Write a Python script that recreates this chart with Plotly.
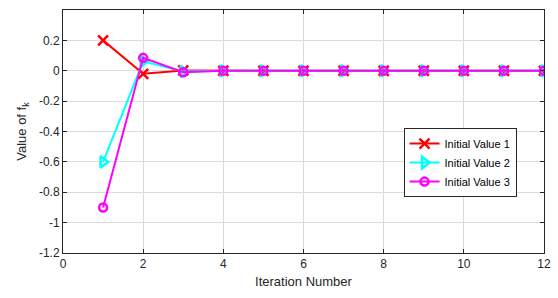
import plotly.graph_objects as go

iterations = [1, 2, 3, 4, 5, 6, 7, 8, 9, 10, 11, 12]
series1 = [0.2, -0.02, 0.002, 0, 0, 0, 0, 0, 0, 0, 0, 0]
series2 = [-0.6, 0.062, -0.005, 0, 0, 0, 0, 0, 0, 0, 0, 0]
series3 = [-0.9, 0.085, -0.01, 0, 0, 0, 0, 0, 0, 0, 0, 0]
names = ["Initial Value 1", "Initial Value 2", "Initial Value 3"]
xticks = [0, 2, 4, 6, 8, 10, 12]
yticks = [-1.2, -1, -0.8, -0.6, -0.4, -0.2, 0, 0.2]
yticklabels = ["-1.2", "-1", "-0.8", "-0.6", "-0.4", "-0.2", "0", "0.2"]

fig = go.Figure()
fig.add_trace(go.Scatter(x=iterations, y=series1, name=names[0], mode="lines+markers",
                         line=dict(color="#ff0000", width=2),
                         marker=dict(symbol="x-thin", size=10, line=dict(color="#ff0000", width=2.5))))
fig.add_trace(go.Scatter(x=iterations, y=series2, name=names[1], mode="lines+markers",
                         line=dict(color="#00ffff", width=2),
                         marker=dict(symbol="triangle-right-open", size=10,
                                     line=dict(color="#00ffff", width=2.5))))
fig.add_trace(go.Scatter(x=iterations, y=series3, name=names[2], mode="lines+markers",
                         line=dict(color="#ff00ff", width=2),
                         marker=dict(symbol="circle-open", size=8, line=dict(color="#ff00ff", width=2.5))))

axis_common = dict(showline=True, linecolor="#262626", linewidth=1, mirror="ticks",
                   ticks="inside", ticklen=4, tickcolor="#262626", automargin=False,
                   showgrid=True, gridcolor="#dcdcdc", gridwidth=1, zeroline=False,
                   tickfont=dict(family="Arial, Liberation Sans", size=12, color="#262626"))

fig.update_layout(
    width=558, height=298,
    margin=dict(l=63, r=14, t=10, b=45),
    paper_bgcolor="white", plot_bgcolor="white",
    font=dict(family="Arial, Liberation Sans", size=12, color="#262626"),
    xaxis=dict(range=[0, 12], tickvals=xticks,
               title=dict(text="Iteration Number", font=dict(size=13), standoff=6),
               **axis_common),
    yaxis=dict(range=[-1.2, 0.4], tickvals=yticks, ticktext=yticklabels,
               title=dict(text="Value of f<sub>k</sub>", font=dict(size=13), standoff=9),
               **axis_common),
    legend=dict(x=0.708, y=0.372, xanchor="left", yanchor="middle",
                bgcolor="white", bordercolor="#262626", borderwidth=1,
                font=dict(size=11, color="#000000"), tracegroupgap=0,
                itemwidth=30),
    showlegend=True,
)

fig.write_html("out.html", config={"displayModeBar": False},
               post_script="document.body.style.margin='0';")
